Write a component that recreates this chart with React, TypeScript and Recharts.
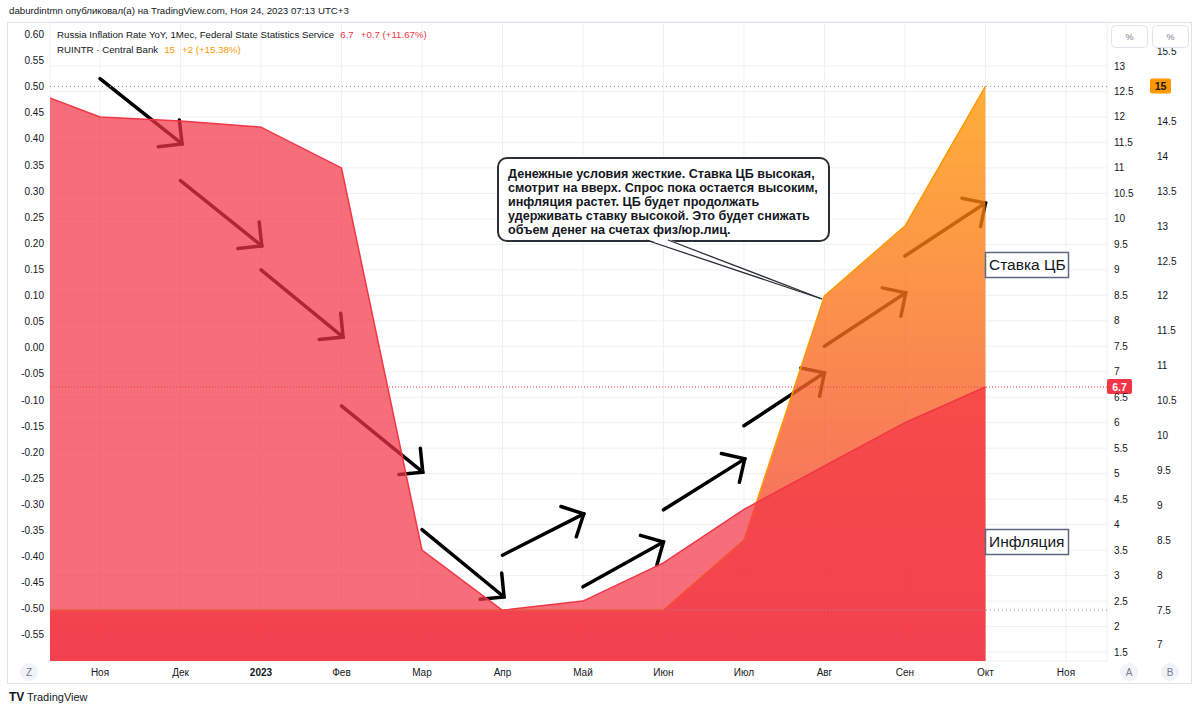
import React from "react";
import { ComposedChart, Area, XAxis, YAxis, CartesianGrid, ReferenceLine } from "recharts";

// month index 0 = Oct 2022
const monthLabels = ["Окт", "Ноя", "Дек", "2023", "Фев", "Мар", "Апр", "Май", "Июн", "Июл", "Авг", "Сен", "Окт", "Ноя"];
const monthIndex = [0, 1, 2, 3, 4, 5, 6, 7, 8, 9, 10, 11, 12];
const inflationYoY = [12.6, 12.0, 11.92, 11.8, 11.0, 3.5, 2.32, 2.5, 3.25, 4.3, 5.15, 6.0, 6.7];
const keyRate = [7.5, 7.5, 7.5, 7.5, 7.5, 7.5, 7.5, 7.5, 7.5, 8.5, 12, 13, 15];

const monthTicks = [1, 2, 3, 4, 5, 6, 7, 8, 9, 10, 11, 12, 13];
const inflationTicks = [1.5, 2, 2.5, 3, 3.5, 4, 4.5, 5, 5.5, 6, 6.5, 7, 7.5, 8, 8.5, 9, 9.5, 10, 10.5, 11, 11.5, 12, 12.5, 13];
const rateTicks = [7, 7.5, 8, 8.5, 9, 9.5, 10, 10.5, 11, 11.5, 12, 12.5, 13, 13.5, 14, 14.5, 15, 15.5];
const zTicks = [-0.55, -0.5, -0.45, -0.4, -0.35, -0.3, -0.25, -0.2, -0.15, -0.1, -0.05, 0, 0.05, 0.1, 0.15, 0.2, 0.25, 0.3, 0.35, 0.4, 0.45, 0.5, 0.55, 0.6];

// hand-drawn arrows, in (month, inflation scale) coordinates
const arrows = [
  { x1: 1, y1: 12.75, x2: 2.02, y2: 11.47 },
  { x1: 2, y1: 10.75, x2: 3.01, y2: 9.47 },
  { x1: 3, y1: 9.0, x2: 4.02, y2: 7.68 },
  { x1: 4, y1: 6.33, x2: 5.01, y2: 5.03 },
  { x1: 5, y1: 3.9, x2: 6.02, y2: 2.58 },
  { x1: 6, y1: 3.4, x2: 7.01, y2: 4.21 },
  { x1: 7, y1: 2.78, x2: 8.0, y2: 3.66 },
  { x1: 8, y1: 4.29, x2: 9.01, y2: 5.29 },
  { x1: 9, y1: 5.94, x2: 10.0, y2: 6.98 },
  { x1: 10, y1: 7.5, x2: 11.01, y2: 8.55 },
  { x1: 11, y1: 9.27, x2: 12.0, y2: 10.31 },
];

const calloutLines = [
  "Денежные условия жесткие. Ставка ЦБ высокая,",
  "смотрит на вверх. Спрос пока остается высоким,",
  "инфляция растет. ЦБ будет продолжать",
  "удерживать ставку высокой. Это будет снижать",
  "объем денег на счетах физ/юр.лиц.",
];

const data = monthIndex.map((m, i) => ({ m, inflation: inflationYoY[i], rate: keyRate[i] }));

const FONT = "'Liberation Sans', Arial, sans-serif";
const TEXT = "#131722";

const fmt = (v: number) => (Number.isInteger(v) ? String(v) : v.toFixed(1));

const MonthTick = (props: any) => {
  const { x, y, payload } = props;
  const label = monthLabels[payload.value];
  return (
    <text x={x} y={y + 15} textAnchor="middle" fontSize={10} fill={TEXT} fontWeight={label === "2023" ? 700 : 400} fontFamily={FONT}>
      {label}
    </text>
  );
};

const ArrowShape = (p: any) => {
  const { x1, y1, x2, y2 } = p;
  const a = Math.atan2(y2 - y1, x2 - x1);
  const L = 24;
  const h1x = x2 - L * Math.cos(a - Math.PI / 4);
  const h1y = y2 - L * Math.sin(a - Math.PI / 4);
  const h2x = x2 - L * Math.cos(a + Math.PI / 4);
  const h2y = y2 - L * Math.sin(a + Math.PI / 4);
  return (
    <g>
      <line x1={x1} y1={y1} x2={x2} y2={y2} stroke="#000" strokeWidth={3.5} strokeLinecap="round" />
      <polyline points={`${h1x},${h1y} ${x2},${y2} ${h2x},${h2y}`} fill="none" stroke="#000" strokeWidth={3.5} strokeLinecap="round" />
    </g>
  );
};

const priceTag = (text: string, bg: string, fg: string, offset: number, w: number) => (p: any) => {
  const vb = p.viewBox;
  const x = vb.x + vb.width + offset;
  const y = vb.y;
  return (
    <g>
      <rect x={x} y={y - 8} width={w} height={15} rx={2} fill={bg} />
      <text x={x + w / 2} y={y + 3.5} textAnchor="middle" fontSize={10.5} fontWeight={700} fill={fg} fontFamily={FONT}>
        {text}
      </text>
    </g>
  );
};

export default function App() {
  const axisTick = { fontSize: 10, fill: TEXT, fontFamily: FONT };
  return (
    <div style={{ position: "absolute", left: 0, top: 0, width: 1200, height: 713, background: "#fff", fontFamily: FONT, color: TEXT }}>
      <div style={{ position: "absolute", left: 9, top: 5, fontSize: 9.7, whiteSpace: "nowrap" }}>
        daburdintmn опубликовал(а) на TradingView.com, Ноя 24, 2023 07:13 UTC+3
      </div>

      <ComposedChart width={1192} height={690} data={data} margin={{ top: 22, right: 0, bottom: 0, left: 0 }} style={{ position: "absolute", left: 0, top: 0 }}>
        <defs>
          <linearGradient id="rateFill" x1="0" y1="0" x2="0" y2="1">
            <stop offset="0%" stopColor="#FF9800" stopOpacity={0.78} />
            <stop offset="100%" stopColor="#F23645" stopOpacity={0.8} />
          </linearGradient>
        </defs>
        <CartesianGrid yAxisId="A" stroke="#eef0f4" />
        <XAxis dataKey="m" type="number" domain={[0.379, 13.51]} allowDataOverflow ticks={monthTicks} interval={0} tick={<MonthTick />} tickLine={false} axisLine={false} tickSize={0} tickMargin={0} height={29} />
        <YAxis yAxisId="Z" orientation="left" type="number" width={50} domain={[-0.6, 0.624]} allowDataOverflow ticks={zTicks} interval={0} tickFormatter={(v: number) => v.toFixed(2)} tick={axisTick} tickLine={false} axisLine={false} tickSize={0} tickMargin={6} />
        <YAxis yAxisId="A" orientation="right" type="number" width={42} domain={[1.324, 13.863]} allowDataOverflow ticks={inflationTicks} interval={0} tickFormatter={fmt} tick={axisTick} tickLine={false} axisLine={false} tickSize={0} tickMargin={7} />
        <YAxis yAxisId="B" orientation="right" type="number" width={43} domain={[6.769, 15.924]} allowDataOverflow ticks={rateTicks.filter((v) => v !== 15)} interval={0} tickFormatter={fmt} tick={axisTick} tickLine={false} axisLine={false} tickSize={0} tickMargin={8} />

        {arrows.map((a, i) => (
          <ReferenceLine key={i} yAxisId="A" segment={[{ x: a.x1, y: a.y1 }, { x: a.x2, y: a.y2 }]} shape={ArrowShape} ifOverflow="visible" zIndex={50} />
        ))}

        <Area yAxisId="B" type="linear" dataKey="rate" stroke="#FF9800" strokeWidth={1.5} fill="url(#rateFill)" fillOpacity={1} dot={false} activeDot={false} isAnimationActive={false} />
        <Area yAxisId="A" type="linear" dataKey="inflation" stroke="#F23645" strokeWidth={1.5} fill="#F23645" fillOpacity={0.72} dot={false} activeDot={false} isAnimationActive={false} />

        <ReferenceLine yAxisId="B" y={7.5} stroke="#9598a1" strokeDasharray="1 3" zIndex={700} />
        <ReferenceLine yAxisId="B" y={15} stroke="#9598a1" strokeDasharray="1 3" zIndex={700} label={priceTag("15", "#FF9800", TEXT, 43, 21)} />
        <ReferenceLine yAxisId="A" y={6.7} stroke="#F23645" strokeDasharray="1 2" zIndex={700} label={priceTag("6.7", "#F23645", "#fff", 0, 25)} />
      </ComposedChart>

      {/* frame */}
      <div style={{ position: "absolute", left: 7, top: 22, width: 1185, height: 662, border: "1px solid #e0e3eb", boxSizing: "border-box", pointerEvents: "none" }} />

      {/* legend */}
      <div style={{ position: "absolute", left: 57, top: 27, fontSize: 9.7, whiteSpace: "nowrap", lineHeight: "15px" }}>
        <div>
          Russia Inflation Rate YoY, 1Мес, Federal State Statistics Service
          <span style={{ color: "#F23645", marginLeft: 6 }}>6.7</span>
          <span style={{ color: "#F23645", marginLeft: 7 }}>+0.7 (+11.67%)</span>
        </div>
        <div>
          RUINTR · Central Bank
          <span style={{ color: "#FF9800", marginLeft: 6 }}>15</span>
          <span style={{ color: "#FF9800", marginLeft: 7 }}>+2 (+15.38%)</span>
        </div>
      </div>

      <svg width={1200} height={713} style={{ position: "absolute", left: 0, top: 0, pointerEvents: "none" }}>
        {/* scale buttons */}
        <rect x={1111.5} y={25.5} width={36} height={22} rx={4} fill="#fff" stroke="#e0e3eb" />
        <text x={1129.5} y={40} textAnchor="middle" fontSize={9} fill="#787b86" fontFamily={FONT}>%</text>
        <rect x={1152.5} y={25.5} width={36} height={22} rx={4} fill="#fff" stroke="#e0e3eb" />
        <text x={1170.5} y={40} textAnchor="middle" fontSize={9} fill="#787b86" fontFamily={FONT}>%</text>
        <circle cx={29} cy={672} r={9} fill="#f0f3fa" />
        <text x={29} y={675.5} textAnchor="middle" fontSize={10} fill="#787b86" fontFamily={FONT}>Z</text>
        <circle cx={1129} cy={672} r={9} fill="#f0f3fa" />
        <text x={1129} y={675.5} textAnchor="middle" fontSize={10} fill="#787b86" fontFamily={FONT}>A</text>
        <circle cx={1170} cy={672} r={9} fill="#f0f3fa" />
        <text x={1170} y={675.5} textAnchor="middle" fontSize={10} fill="#787b86" fontFamily={FONT}>B</text>

        {/* callout */}
        <rect x={498} y={158} width={331} height={83} rx={9} fill="#fff" stroke="#2a2e39" strokeWidth={2} />
        <polygon points="646,239 822,299 668,239" fill="#fff" />
        <line x1={646} y1={240} x2={822} y2={299} stroke="#2a2e39" strokeWidth={1.3} />
        <line x1={668} y1={240} x2={822} y2={299} stroke="#2a2e39" strokeWidth={1.3} />
        {calloutLines.map((t, i) => (
          <text key={i} x={508} y={178 + i * 14} fontSize={12.6} fontWeight={700} fill={TEXT} fontFamily={FONT}>{t}</text>
        ))}

        {/* series labels */}
        <rect x={985.5} y={252.5} width={83} height={25} fill="#fff" stroke="#5d6a7e" strokeWidth={1.5} />
        <text x={989} y={270} fontSize={15.5} fill={TEXT} fontFamily={FONT}>Ставка ЦБ</text>
        <rect x={985.5} y={529.5} width={83} height={25} fill="#fff" stroke="#5d6a7e" strokeWidth={1.5} />
        <text x={989} y={547} fontSize={15.5} fill={TEXT} fontFamily={FONT}>Инфляция</text>

        {/* logo */}
        <text x={9} y={701} fontSize={12} fontWeight={700} fill={TEXT} fontFamily={FONT}>TV</text>
        <text x={27} y={701} fontSize={11} fill={TEXT} fontFamily={FONT}>TradingView</text>
      </svg>
    </div>
  );
}
